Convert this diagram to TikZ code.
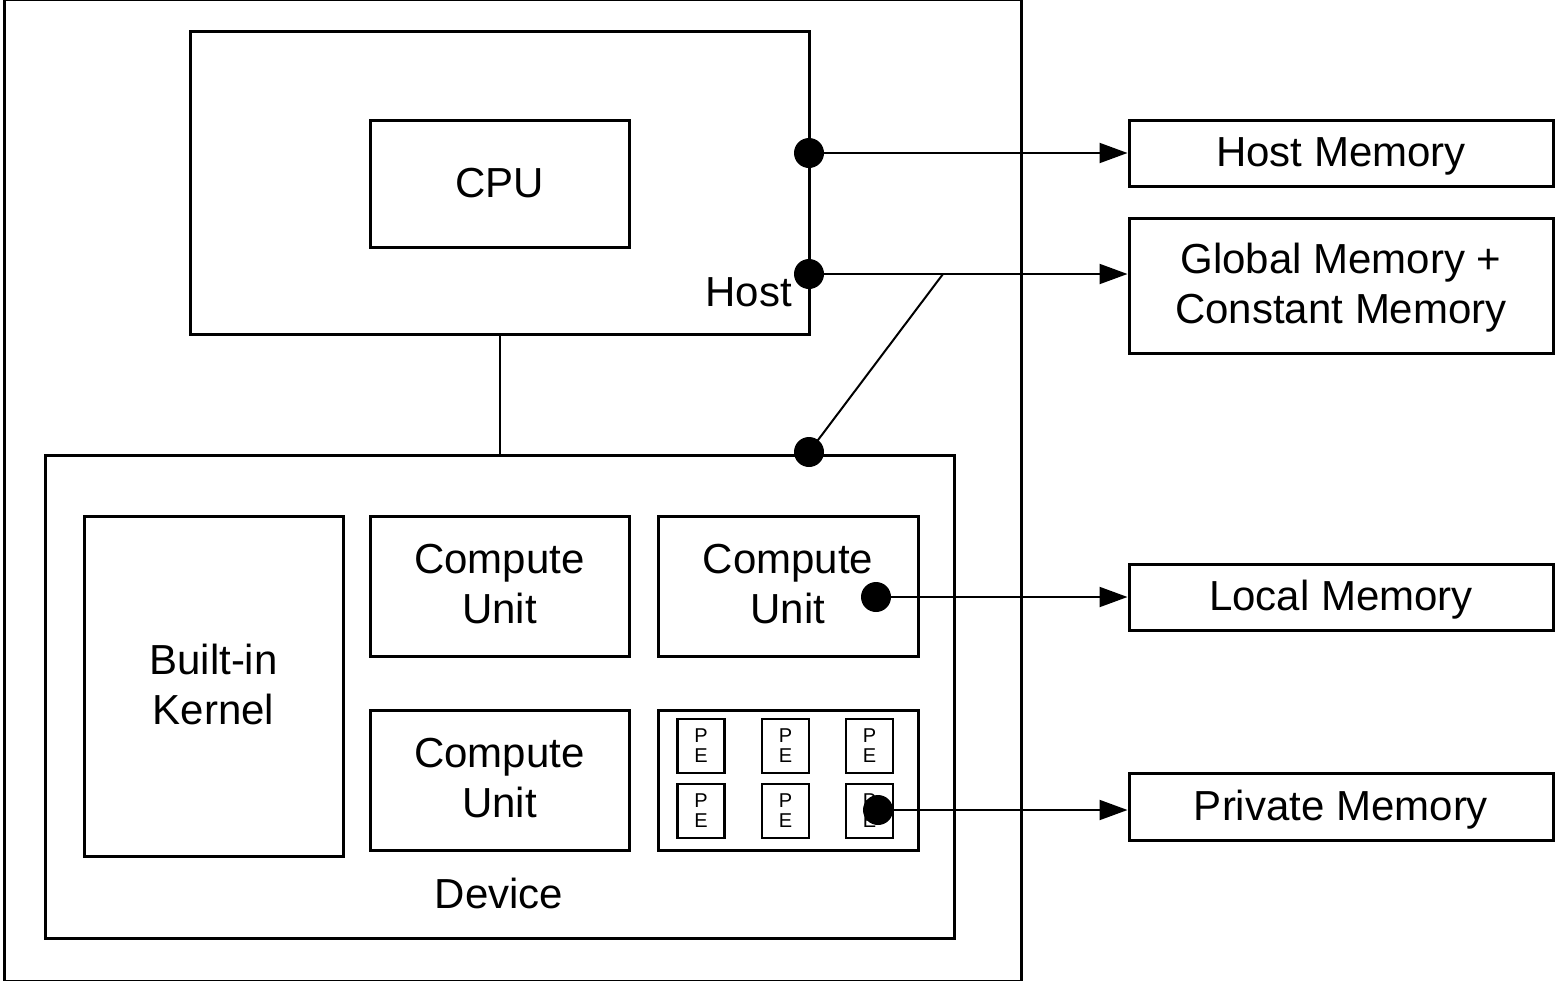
\documentclass[tikz,border=0pt]{standalone}
\usepackage{fontspec}
\setmainfont{Liberation Sans}
\usetikzlibrary{arrows.meta}
\begin{document}
\begin{tikzpicture}[x=1pt,y=-1pt,
  box/.style={draw,line width=3pt,inner sep=0pt},
  pebox/.style={draw,line width=2.5pt,inner sep=0pt,minimum width=47pt,minimum height=54pt,align=center,font=\fontsize{20}{23}\selectfont},
  lbl/.style={font=\fontsize{42}{50}\selectfont,align=center,inner sep=0pt},
  dot/.style={circle,fill=black,minimum size=30pt,inner sep=0pt},
  conn/.style={line width=2pt},
  arr/.style={line width=2pt,-{Triangle[length=28pt,width=20pt]}}]
\useasboundingbox (0,0) rectangle (1557,980);
% frames
\draw[box] (4,-1) rectangle (1021,981);
\node[box,minimum width=619pt,minimum height=303pt] (host) at (499.5,182.5) {};
\node[box,minimum width=259pt,minimum height=127pt] (cpu) at (499.5,183.5) {};
\node[lbl] at (cpu.center) {CPU};
\node[lbl,anchor=east] (hostlbl) at (792,292) {Host};
\node[box,minimum width=909pt,minimum height=483pt] (device) at (499.5,696.5) {};
\node[lbl] (devlbl) at (499,893) {Device};
\node[box,minimum width=259pt,minimum height=340pt] (kernel) at (213.5,686) {};
\node[lbl] at ([yshift=2pt]kernel.center) {Built-in\\Kernel};
\node[box,minimum width=259pt,minimum height=140pt] (cu1) at (499.5,586) {};
\node[lbl] at ([yshift=2pt]cu1.center) {Compute\\Unit};
\node[box,minimum width=260pt,minimum height=140pt] (cu2) at (788,586) {};
\node[lbl] at ([yshift=2pt]cu2.center) {Compute\\Unit};
\node[box,minimum width=259pt,minimum height=140pt] (cu3) at (499.5,780) {};
\node[lbl] at ([yshift=2pt]cu3.center) {Compute\\Unit};
\node[box,minimum width=260pt,minimum height=140pt] (pes) at (788,780) {};
\foreach \i/\x in {1/701,2/785.5,3/869.5}{
  \node[pebox] (peA\i) at (\x,746) {P\\[-3pt]E};
  \node[pebox] (peB\i) at (\x,811) {P\\[-3pt]E};
}
% memories
\node[box,minimum width=424pt,minimum height=66pt] (hm) at (1341,153) {};
\node[lbl] at ([yshift=-3pt]hm.center) {Host Memory};
\node[box,minimum width=424pt,minimum height=135pt] (gm) at (1341,285.5) {};
\node[lbl] at ([yshift=-2pt]gm.center) {Global Memory +\\Constant Memory};
\node[box,minimum width=424pt,minimum height=66pt] (lm) at (1341,597) {};
\node[lbl] at ([yshift=-3pt]lm.center) {Local Memory};
\node[box,minimum width=424pt,minimum height=67pt] (pm) at (1341,806.5) {};
\node[lbl] at ([yshift=-3pt]pm.center) {Private Memory};
% dots
\node[dot] (d1) at (809,153) {};
\node[dot] (d2) at (809,274) {};
\node[dot] (d3) at (809,452) {};
\node[dot] (d4) at (876,597) {};
\node[dot] (d5) at (878,810) {};
\coordinate (j) at (943,274);
% connectors
\draw[arr] (d1.center) -- (d1.center -| hm.west);
\draw[arr] (d2.center) -- (d2.center -| gm.west);
\draw[conn] (d3.center) -- (j);
\draw[conn] (host.south) -- (device.north);
\draw[arr] (d4.center) -- (d4.center -| lm.west);
\draw[arr] (d5.center) -- (d5.center -| pm.west);
\end{tikzpicture}
\end{document}
